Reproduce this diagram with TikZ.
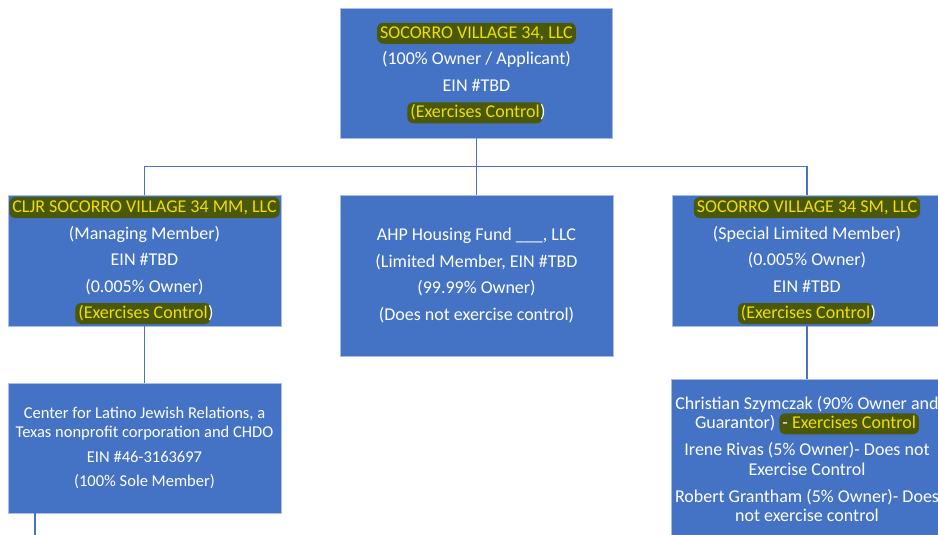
\documentclass[tikz,border=0pt]{standalone}
\usepackage{fontspec}
\setmainfont{Carlito}
\definecolor{boxblue}{HTML}{4472C4}
\definecolor{boxedge}{HTML}{A9BDE5}
\definecolor{connblue}{HTML}{4A74C2}
\definecolor{hlolive}{HTML}{4A5808}
\definecolor{hlyellow}{HTML}{EEE000}
% highlighted run of text (olive pill with yellow letters)
\newcommand\hlt[1]{\tikz[baseline=(hl.base)]\node[hlpill](hl){#1};}
% closing parenthesis set tight against a highlight
\newcommand\tightclose{\hspace{-2.5pt})}
\tikzset{
  hlpill/.style={shape=rectangle, fill=hlolive, draw=none, rounded corners=6pt,
    minimum width=0pt, minimum height=0pt, inner xsep=3pt, inner ysep=0pt,
    text height=15.5pt, text depth=5.5pt, text=hlyellow},
  orgbox/.style={shape=rectangle, fill=boxblue, draw=boxedge, line width=0.8pt,
    text=white, align=center, inner sep=0pt,
    font=\fontsize{18}{19.5}\selectfont},
  conn/.style={draw=connblue, line width=1.5pt},
}
\begin{document}
\lineskiplimit=-30pt
\begin{tikzpicture}[x=1pt,y=-1pt]
\useasboundingbox (0,0) rectangle (938,535);

\node[orgbox, minimum width=272pt, minimum height=130pt] (top) at (476.5,73)
  {\hlt{SOCORRO VILLAGE 34, LLC}\\[7pt]
   (100\% Owner / Applicant)\\[7pt]
   EIN \#TBD\\[7pt]
   \hlt{(Exercises Control}\tightclose};

\node[orgbox, minimum width=273pt, minimum height=131pt] (mm) at (144.5,260.5)
  {\hlt{CLJR SOCORRO VILLAGE 34 MM, LLC}\\[7pt]
   (Managing Member)\\[7pt]
   EIN \#TBD\\[7pt]
   (0.005\% Owner)\\[7pt]
   \hlt{(Exercises Control}\tightclose};

\node[orgbox, minimum width=273pt, minimum height=161pt] (lm) at (476.5,275.5)
  {AHP Housing Fund \_\_\_, LLC\\[7pt]
   (Limited Member, EIN \#TBD\\[7pt]
   (99.99\% Owner)\\[7pt]
   (Does not exercise control)};

\node[orgbox, minimum width=270pt, minimum height=131pt] (sm) at (807,260.5)
  {\hlt{SOCORRO VILLAGE 34 SM, LLC}\\[7pt]
   (Special Limited Member)\\[7pt]
   (0.005\% Owner)\\[7pt]
   EIN \#TBD\\[7pt]
   \hlt{(Exercises Control}\tightclose};

\node[orgbox, minimum width=273pt, minimum height=130pt,
      font=\fontsize{16.5}{19}\selectfont] (clj) at (144.5,448)
  {Center for Latino Jewish Relations, a\\
   Texas nonprofit corporation and CHDO\\[5.5pt]
   EIN \#46-3163697\\[5.5pt]
   (100\% Sole Member)};

\node[orgbox, minimum width=272pt, minimum height=160pt] (owners) at (807,459)
  {Christian Szymczak (90\% Owner and\\
   Guarantor) \hlt{\textcolor{white}{-} Exercises Control}\\[7.5pt]
   Irene Rivas (5\% Owner)- Does not\\
   Exercise Control\\[7.5pt]
   Robert Grantham (5\% Owner)- Does\\
   not exercise control};

\coordinate (tail) at (35,545);

\draw[conn] (top.south) -- ++(0,28) -| (mm.north);
\draw[conn] (top.south) -- ++(0,28) -| (sm.north);
\draw[conn] (top.south) -- (lm.north);
\draw[conn] (mm.south) -- (clj.north);
\draw[conn] (sm.south) -- (owners.north -| sm.south);
\draw[conn] (clj.south -| tail) -- (tail);
\end{tikzpicture}
\end{document}
